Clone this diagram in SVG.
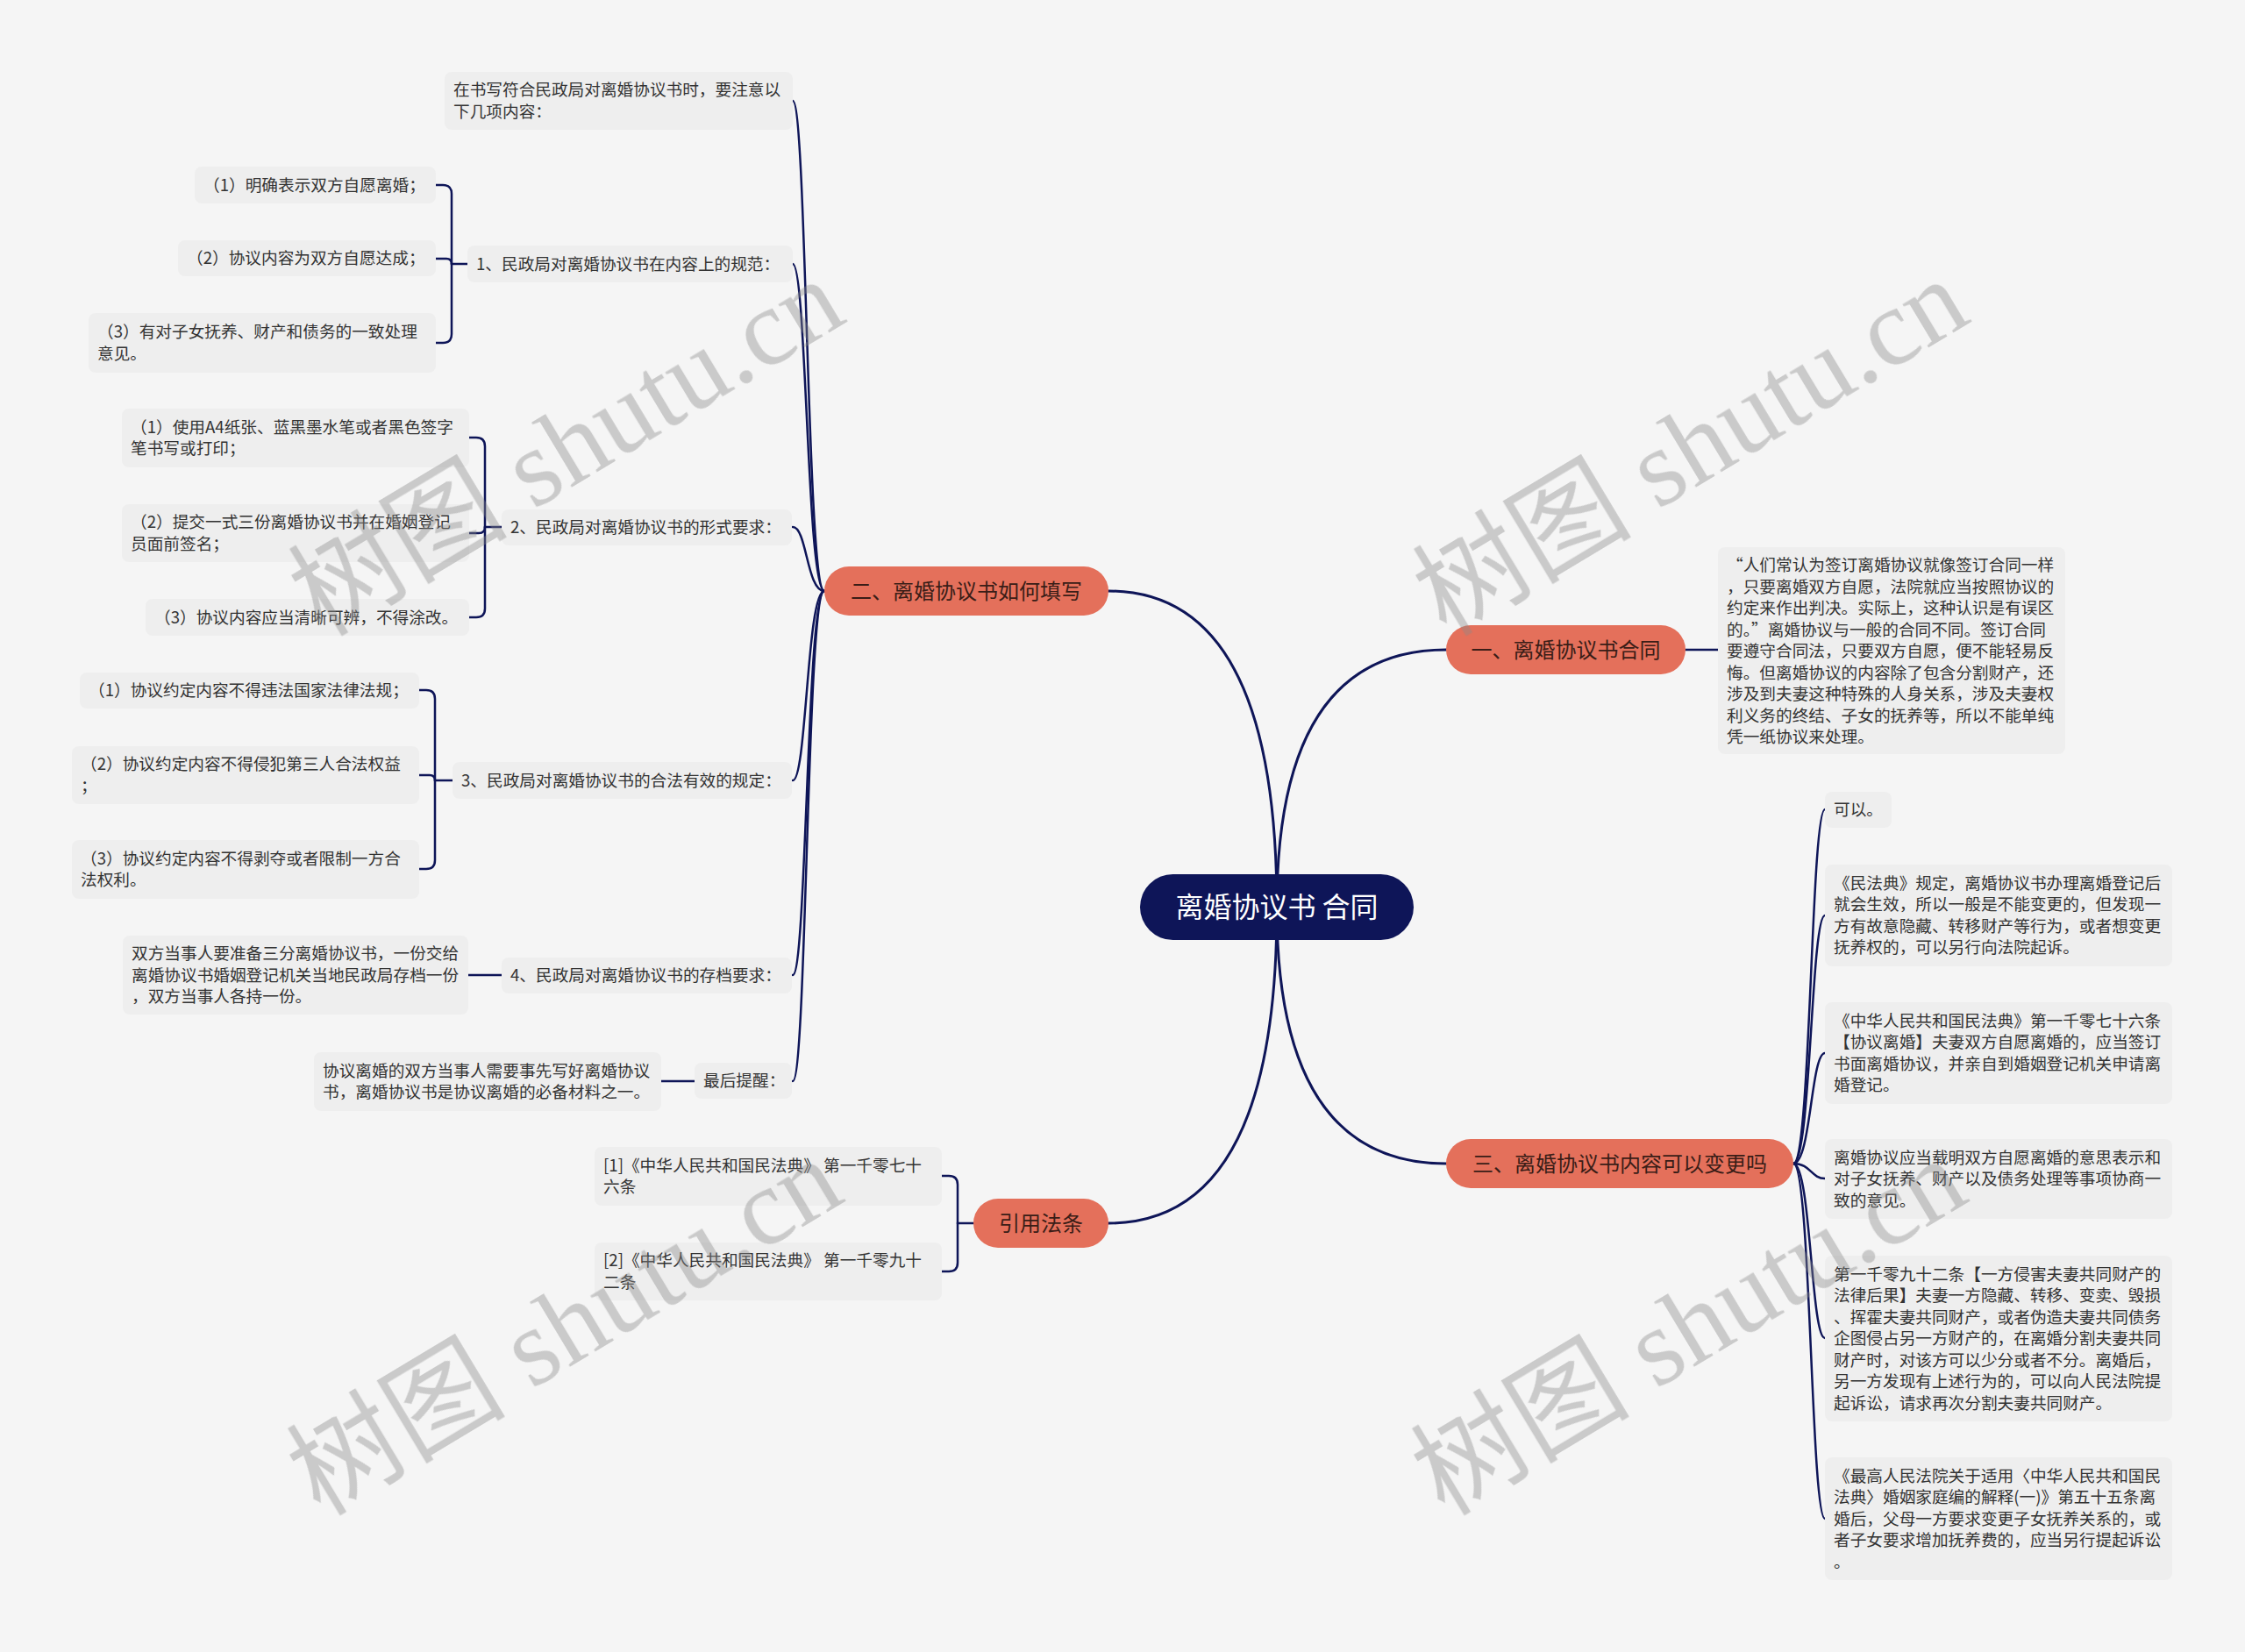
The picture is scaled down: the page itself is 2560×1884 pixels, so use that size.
<svg xmlns="http://www.w3.org/2000/svg" width="2560" height="1884" viewBox="0 0 2560 1884">
<style>
.bg{fill:#f5f5f5}
.box{fill:#eeeeee}
.t{font-family:"Noto Sans CJK SC","Microsoft YaHei",sans-serif;font-size:18.67px;fill:#333333}
.l1{fill:#e4705b}
.l1t{font-family:"Noto Sans CJK SC","Microsoft YaHei",sans-serif;font-size:24px;fill:#3a1d17;text-anchor:middle}
.root{fill:#0e1558}
.roott{font-family:"Noto Sans CJK SC","Microsoft YaHei",sans-serif;font-size:32px;fill:#ffffff;text-anchor:middle}
.c{fill:none;stroke:#0e1558;stroke-width:2.5;stroke-linecap:round}
.c0{fill:none;stroke:#0e1558;stroke-width:3;stroke-linecap:round}
.wm{font-family:"Liberation Serif","Noto Sans CJK SC",serif;font-size:125px;fill:#8a8a8a;text-anchor:middle}
</style>
<rect class="bg" x="0" y="0" width="2560" height="1884"/>

<g id="connectors">
  <path class="c0" d="M1456 1035 Q1456 674 1264 674"/>
  <path class="c0" d="M1456 1035 Q1456 741 1649 741"/>
  <path class="c0" d="M1456 1035 Q1456 1327 1649 1327"/>
  <path class="c0" d="M1456 1035 Q1456 1395 1264 1395"/>

  <path class="c" d="M940 674 C920 674 920 115 904 115"/>
  <path class="c" d="M940 674 C920 674 920 301 904 301"/>
  <path class="c" d="M940 674 C920 674 920 601 904 601"/>
  <path class="c" d="M940 674 C920 674 920 890 904 890"/>
  <path class="c" d="M940 674 C920 674 920 1112 904 1112"/>
  <path class="c" d="M940 674 C920 674 920 1233 904 1233"/>

  <path class="c" d="M533 301 H515"/>
  <path class="c" d="M515 301 V221 Q515 211 505 211 H497"/>
  <path class="c" d="M515 301 Q515 295 509 295 H497"/>
  <path class="c" d="M515 301 V381 Q515 391 505 391 H497"/>

  <path class="c" d="M572 601 H553"/>
  <path class="c" d="M553 601 V509 Q553 499 543 499 H535"/>
  <path class="c" d="M553 601 Q553 608 546 608 H535"/>
  <path class="c" d="M553 601 V694 Q553 704 543 704 H535"/>

  <path class="c" d="M516 890 H496"/>
  <path class="c" d="M496 890 V797 Q496 787 486 787 H478"/>
  <path class="c" d="M496 890 Q496 884 490 884 H478"/>
  <path class="c" d="M496 890 V981 Q496 991 486 991 H478"/>

  <path class="c" d="M572 1112 H534"/>
  <path class="c" d="M792 1233 H754"/>

  <path class="c" d="M1110 1395 H1092"/>
  <path class="c" d="M1092 1395 V1351 Q1092 1341 1082 1341 H1074"/>
  <path class="c" d="M1092 1395 V1440 Q1092 1450 1082 1450 H1074"/>

  <path class="c" d="M1922 741 H1959"/>

  <path class="c" d="M2045 1327 C2065 1327 2065 923 2081 923"/>
  <path class="c" d="M2045 1327 C2065 1327 2065 1044 2081 1044"/>
  <path class="c" d="M2045 1327 C2065 1327 2065 1201 2081 1201"/>
  <path class="c" d="M2045 1327 C2065 1327 2065 1344 2081 1344"/>
  <path class="c" d="M2045 1327 C2065 1327 2065 1526 2081 1526"/>
  <path class="c" d="M2045 1327 C2065 1327 2065 1732 2081 1732"/>
</g>

<g id="node-root">
  <rect class="root" x="1300" y="997" width="312" height="75" rx="37.5"/>
  <text class="roott" x="1456" y="1046">离婚协议书 合同</text>
</g>

<g id="node-b2">
  <rect class="l1" x="940" y="646" width="324" height="56" rx="28"/>
  <text class="l1t" x="1102" y="682.5">二、离婚协议书如何填写</text>
</g>
<g id="node-b1">
  <rect class="l1" x="1649" y="713" width="273" height="56" rx="28"/>
  <text class="l1t" x="1785.5" y="749.5">一、离婚协议书合同</text>
</g>
<g id="node-b3">
  <rect class="l1" x="1649" y="1299" width="396" height="56" rx="28"/>
  <text class="l1t" x="1847" y="1335.5">三、离婚协议书内容可以变更吗</text>
</g>
<g id="node-law">
  <rect class="l1" x="1110" y="1367" width="154" height="56" rx="28"/>
  <text class="l1t" x="1187" y="1403.5">引用法条</text>
</g>

<g id="node-a">
  <rect class="box" x="507" y="82" width="397" height="66" rx="8"/>
  <text class="t" x="517" y="109.25">在书写符合民政局对离婚协议书时，要注意以<tspan x="517" dy="24.5">下几项内容：</tspan></text>
</g>
<g id="node-b">
  <rect class="box" x="533" y="280" width="371" height="42" rx="8"/>
  <text class="t" x="543" y="307.5">1、民政局对离婚协议书在内容上的规范：</text>
</g>
<g id="node-b-1">
  <rect class="box" x="222" y="190" width="275" height="42" rx="8"/>
  <text class="t" x="232" y="217.5">（1）明确表示双方自愿离婚；</text>
</g>
<g id="node-b-2">
  <rect class="box" x="203" y="274" width="294" height="41" rx="8"/>
  <text class="t" x="213" y="301">（2）协议内容为双方自愿达成；</text>
</g>
<g id="node-b-3">
  <rect class="box" x="101" y="357" width="396" height="68" rx="8"/>
  <text class="t" x="111" y="385.25">（3）有对子女抚养、财产和债务的一致处理<tspan x="111" dy="24.5">意见。</tspan></text>
</g>

<g id="node-c">
  <rect class="box" x="572" y="581" width="331" height="41" rx="8"/>
  <text class="t" x="582" y="608">2、民政局对离婚协议书的形式要求：</text>
</g>
<g id="node-c-1">
  <rect class="box" x="139" y="466" width="396" height="67" rx="8"/>
  <text class="t" x="149" y="493.75">（1）使用A4纸张、蓝黑墨水笔或者黑色签字<tspan x="149" dy="24.5">笔书写或打印；</tspan></text>
</g>
<g id="node-c-2">
  <rect class="box" x="139" y="575" width="396" height="66" rx="8"/>
  <text class="t" x="149" y="602.25">（2）提交一式三份离婚协议书并在婚姻登记<tspan x="149" dy="24.5">员面前签名；</tspan></text>
</g>
<g id="node-c-3">
  <rect class="box" x="166" y="683" width="369" height="42" rx="8"/>
  <text class="t" x="176" y="710.5">（3）协议内容应当清晰可辨，不得涂改。</text>
</g>

<g id="node-d">
  <rect class="box" x="516" y="869" width="387" height="42" rx="8"/>
  <text class="t" x="526" y="896.5">3、民政局对离婚协议书的合法有效的规定：</text>
</g>
<g id="node-d-1">
  <rect class="box" x="91" y="767" width="387" height="41" rx="8"/>
  <text class="t" x="101" y="794">（1）协议约定内容不得违法国家法律法规；</text>
</g>
<g id="node-d-2">
  <rect class="box" x="82" y="851" width="396" height="66" rx="8"/>
  <text class="t" x="92" y="878.25">（2）协议约定内容不得侵犯第三人合法权益<tspan x="92" dy="24.5">；</tspan></text>
</g>
<g id="node-d-3">
  <rect class="box" x="82" y="958" width="396" height="67" rx="8"/>
  <text class="t" x="92" y="985.75">（3）协议约定内容不得剥夺或者限制一方合<tspan x="92" dy="24.5">法权利。</tspan></text>
</g>

<g id="node-e">
  <rect class="box" x="572" y="1092" width="331" height="41" rx="8"/>
  <text class="t" x="582" y="1119">4、民政局对离婚协议书的存档要求：</text>
</g>
<g id="node-e-1">
  <rect class="box" x="140" y="1067" width="394" height="90" rx="8"/>
  <text class="t" x="150" y="1094">双方当事人要准备三分离婚协议书，一份交给<tspan x="150" dy="24.5">离婚协议书婚姻登记机关当地民政局存档一份</tspan><tspan x="150" dy="24.5">，双方当事人各持一份。</tspan></text>
</g>

<g id="node-f">
  <rect class="box" x="792" y="1212" width="111" height="41" rx="8"/>
  <text class="t" x="802" y="1239">最后提醒：</text>
</g>
<g id="node-f-1">
  <rect class="box" x="358" y="1200" width="396" height="67" rx="8"/>
  <text class="t" x="368" y="1227.75">协议离婚的双方当事人需要事先写好离婚协议<tspan x="368" dy="24.5">书，离婚协议书是协议离婚的必备材料之一。</tspan></text>
</g>

<g id="node-g-1">
  <rect class="box" x="678" y="1308" width="396" height="67" rx="8"/>
  <text class="t" x="688" y="1335.75">[1]《中华人民共和国民法典》 第一千零七十<tspan x="688" dy="24.5">六条</tspan></text>
</g>
<g id="node-g-2">
  <rect class="box" x="678" y="1417" width="396" height="66" rx="8"/>
  <text class="t" x="688" y="1444.25">[2]《中华人民共和国民法典》 第一千零九十<tspan x="688" dy="24.5">二条</tspan></text>
</g>

<g id="node-h-1">
  <rect class="box" x="1959" y="624" width="396" height="236" rx="8"/>
  <text class="t" x="1969" y="651">“人们常认为签订离婚协议就像签订合同一样<tspan x="1969" dy="24.5">，只要离婚双方自愿，法院就应当按照协议的</tspan><tspan x="1969" dy="24.5">约定来作出判决。实际上，这种认识是有误区</tspan><tspan x="1969" dy="24.5">的。”离婚协议与一般的合同不同。签订合同</tspan><tspan x="1969" dy="24.5">要遵守合同法，只要双方自愿，便不能轻易反</tspan><tspan x="1969" dy="24.5">悔。但离婚协议的内容除了包含分割财产，还</tspan><tspan x="1969" dy="24.5">涉及到夫妻这种特殊的人身关系，涉及夫妻权</tspan><tspan x="1969" dy="24.5">利义务的终结、子女的抚养等，所以不能单纯</tspan><tspan x="1969" dy="24.5">凭一纸协议来处理。</tspan></text>
</g>

<g id="node-j-1">
  <rect class="box" x="2081" y="903" width="76" height="41" rx="8"/>
  <text class="t" x="2091" y="930">可以。</text>
</g>
<g id="node-j-2">
  <rect class="box" x="2081" y="986" width="396" height="116" rx="8"/>
  <text class="t" x="2091" y="1013.75">《民法典》规定，离婚协议书办理离婚登记后<tspan x="2091" dy="24.5">就会生效，所以一般是不能变更的，但发现一</tspan><tspan x="2091" dy="24.5">方有故意隐藏、转移财产等行为，或者想变更</tspan><tspan x="2091" dy="24.5">抚养权的，可以另行向法院起诉。</tspan></text>
</g>
<g id="node-j-3">
  <rect class="box" x="2081" y="1143" width="396" height="116" rx="8"/>
  <text class="t" x="2091" y="1170.75">《中华人民共和国民法典》第一千零七十六条<tspan x="2091" dy="24.5">【协议离婚】夫妻双方自愿离婚的，应当签订</tspan><tspan x="2091" dy="24.5">书面离婚协议，并亲自到婚姻登记机关申请离</tspan><tspan x="2091" dy="24.5">婚登记。</tspan></text>
</g>
<g id="node-j-4">
  <rect class="box" x="2081" y="1299" width="396" height="91" rx="8"/>
  <text class="t" x="2091" y="1326.5">离婚协议应当载明双方自愿离婚的意思表示和<tspan x="2091" dy="24.5">对子女抚养、财产以及债务处理等事项协商一</tspan><tspan x="2091" dy="24.5">致的意见。</tspan></text>
</g>
<g id="node-j-5">
  <rect class="box" x="2081" y="1432" width="396" height="189" rx="8"/>
  <text class="t" x="2091" y="1459.5">第一千零九十二条【一方侵害夫妻共同财产的<tspan x="2091" dy="24.5">法律后果】夫妻一方隐藏、转移、变卖、毁损</tspan><tspan x="2091" dy="24.5">、挥霍夫妻共同财产，或者伪造夫妻共同债务</tspan><tspan x="2091" dy="24.5">企图侵占另一方财产的，在离婚分割夫妻共同</tspan><tspan x="2091" dy="24.5">财产时，对该方可以少分或者不分。离婚后，</tspan><tspan x="2091" dy="24.5">另一方发现有上述行为的，可以向人民法院提</tspan><tspan x="2091" dy="24.5">起诉讼，请求再次分割夫妻共同财产。</tspan></text>
</g>
<g id="node-j-6">
  <rect class="box" x="2081" y="1662" width="396" height="140" rx="8"/>
  <text class="t" x="2091" y="1689.5">《最高人民法院关于适用〈中华人民共和国民<tspan x="2091" dy="24.5">法典〉婚姻家庭编的解释(一)》第五十五条离</tspan><tspan x="2091" dy="24.5">婚后，父母一方要求变更子女抚养关系的，或</tspan><tspan x="2091" dy="24.5">者子女要求增加抚养费的，应当另行提起诉讼</tspan><tspan x="2091" dy="24.5">。</tspan></text>
</g>

<g id="watermark" opacity="0.4">
  <text class="wm" transform="translate(647 512) rotate(-31)" y="40">树图 shutu.cn</text>
  <text class="wm" transform="translate(1929 512) rotate(-31)" y="40">树图 shutu.cn</text>
  <text class="wm" transform="translate(645 1515) rotate(-31)" y="40">树图 shutu.cn</text>
  <text class="wm" transform="translate(1927 1515) rotate(-31)" y="40">树图 shutu.cn</text>
</g>
</svg>
